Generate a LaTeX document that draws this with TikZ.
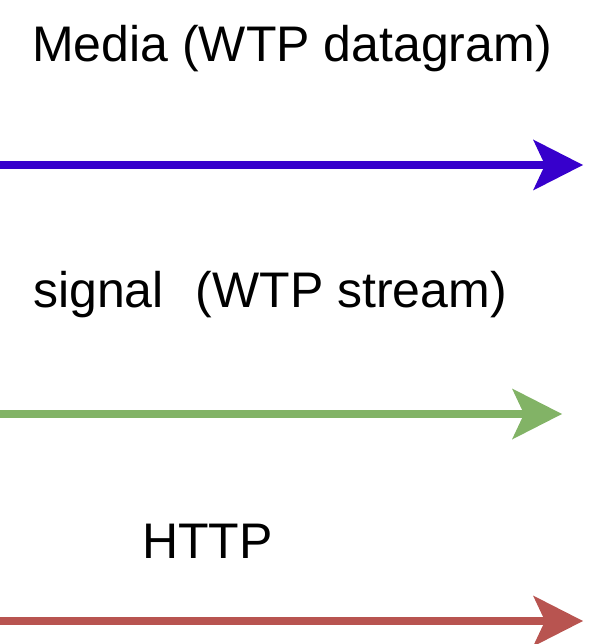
\documentclass[tikz,border=0pt]{standalone}
\usepackage{fontspec}
\setmainfont{Liberation Sans}
\usetikzlibrary{arrows.meta}
\definecolor{mediablue}{HTML}{3700CC}
\definecolor{signalgreen}{HTML}{82B366}
\definecolor{httpred}{HTML}{B85450}
\tikzset{
  flow/.style={line width=8pt, -{Stealth[length=50pt, width=51pt, inset=12pt, line width=0pt]}},
  caption/.style={anchor=base west, inner sep=0pt, font=\fontsize{50}{60}\selectfont, text=black}
}
\begin{document}
\begin{tikzpicture}[x=1pt, y=-1pt]
  \useasboundingbox (0,0) rectangle (589,644);
  % labels
  \node[caption] (media) at (32,62) {Media (WTP datagram)};
  \node[caption] (signal) at (33,307) {signal\hspace{32pt}(WTP stream)};
  \node[caption] (http) at (142,558) {HTTP};
  % arrow end points
  \coordinate (m0) at (-4,165);
  \coordinate (m1) at (583,165);
  \coordinate (s0) at (-4,414);
  \coordinate (s1) at (562,414);
  \coordinate (h0) at (-4,621);
  \coordinate (h1) at (583,621);
  % arrows
  \draw[flow, mediablue] (m0) -- (m1);
  \draw[flow, signalgreen] (s0) -- (s1);
  \draw[flow, httpred] (h0) -- (h1);
\end{tikzpicture}
\end{document}
